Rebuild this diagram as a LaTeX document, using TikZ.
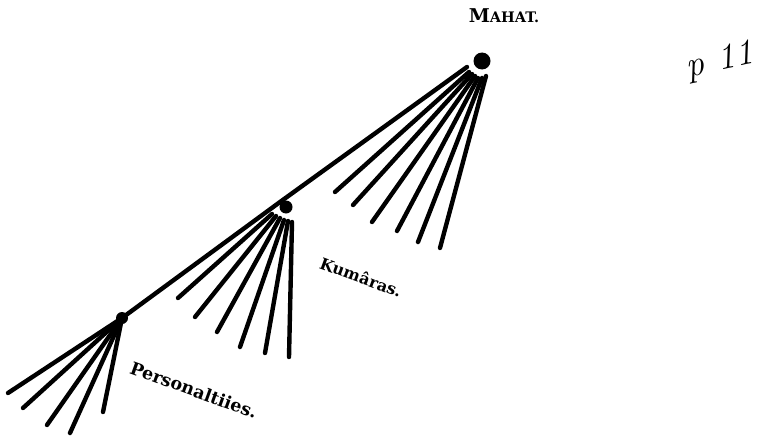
\documentclass[tikz,border=0pt]{standalone}
\usepackage{fontspec}
\newfontfamily\labfont{DejaVu Serif}
\begin{document}
\begin{tikzpicture}[x=1pt,y=-1pt,
  ray/.style={line width=4.4pt, line cap=round},
  dot/.style={circle, fill=black, inner sep=0pt},
  lab/.style={inner sep=0pt}]
\useasboundingbox (0,0) rectangle (778,436);
% dots
\node[dot, minimum size=17pt] (mahat) at (482,61) {};
\node[dot, minimum size=13pt] (kum) at (286,207) {};
\node[dot, minimum size=12pt] (pers) at (122,318) {};
% main stem
\coordinate (mtop) at (467,67);
\coordinate (kside) at (280,202);
\draw[ray] (mtop) -- (kside) -- (pers.center);
% Mahat rays
\coordinate (ms1) at (469,72); \coordinate (me1) at (335,192);
\coordinate (ms2) at (472,74); \coordinate (me2) at (353,205);
\coordinate (ms3) at (475,76); \coordinate (me3) at (372,222);
\coordinate (ms4) at (478,78); \coordinate (me4) at (397,231);
\coordinate (ms5) at (482,78); \coordinate (me5) at (418,242);
\coordinate (ms6) at (486,76); \coordinate (me6) at (440,248);
\foreach \i in {1,...,6} \draw[ray] (ms\i) -- (me\i);
% Kumaras rays
\coordinate (ks1) at (272,214); \coordinate (ke1) at (178,298);
\coordinate (ks2) at (276,216); \coordinate (ke2) at (195,317);
\coordinate (ks3) at (280,218); \coordinate (ke3) at (217,332);
\coordinate (ks4) at (284,220); \coordinate (ke4) at (240,347);
\coordinate (ks5) at (288,221); \coordinate (ke5) at (265,353);
\coordinate (ks6) at (292,222); \coordinate (ke6) at (289,357);
\foreach \i in {1,...,6} \draw[ray] (ks\i) -- (ke\i);
% Personalities rays
\coordinate (pe1) at (8,393);
\coordinate (pe2) at (23,408);
\coordinate (pe3) at (47,425);
\coordinate (pe4) at (70,433);
\coordinate (pe5) at (103,412);
\foreach \i in {1,...,5} \draw[ray] (pers.center) -- (pe\i);
% labels
\node[lab, font=\labfont\bfseries\fontsize{19}{19}\selectfont] (tmahat) at (504,16) {M{\fontsize{14.5}{14.5}\selectfont AHAT.}};
\node[lab, font=\labfont\bfseries\fontsize{16}{16}\selectfont, rotate=-20] (tkum) at (361,277) {Kumâras.};
\node[lab, font=\labfont\bfseries\fontsize{17.5}{17.5}\selectfont, rotate=-20] (tpers) at (194,390) {Personaltiies.};
\node[font=\itshape\fontsize{36}{36}\selectfont, rotate=12, inner sep=0pt] (pnote) at (720,62) {p\hspace{14pt}11};
\end{tikzpicture}
\end{document}
